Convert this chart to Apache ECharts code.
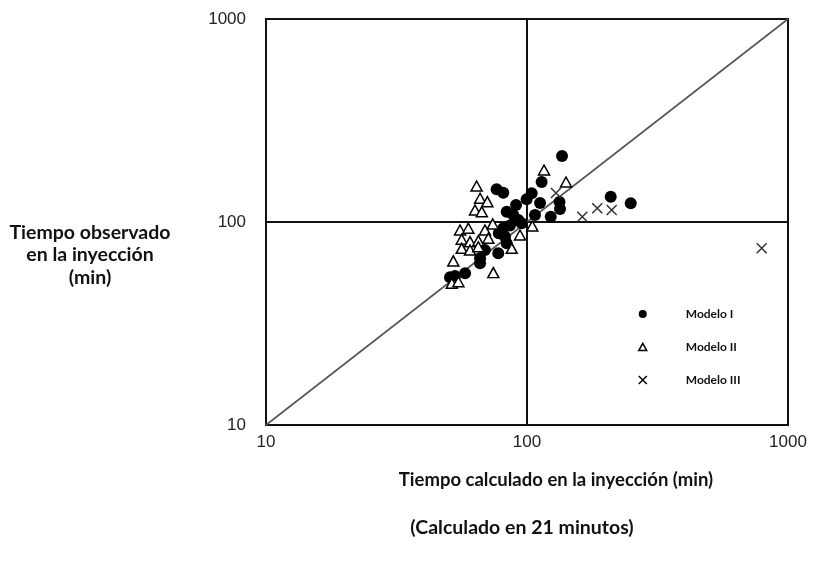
<!DOCTYPE html>
<html>
<head>
<meta charset="utf-8">
<script src="https://cdn.jsdelivr.net/npm/echarts@6/dist/echarts.min.js"></script>
<style>html,body{margin:0;padding:0;background:#fff;}#c{width:816px;height:569px;}</style>
</head>
<body>
<div id="c"></div>
<script>
// Modelo I (filled circles): [calculated, observed] in minutes
const modeloI = [
  [136.2,211.4],[113.8,157.4],[104.2,138.5],[99.7,129.4],[76.5,144.9],[81.1,139.4],
  [112.2,124.1],[133.2,125.5],[133.8,115.9],[123.3,106.2],[107.3,108.3],
  [209.3,133.2],[249.7,123.6],[83.6,112.4],[88.6,108.3],[92.6,102.3],[95.4,98.5],
  [90.8,121.3],[81.1,93.1],[82.4,84.6],[83.6,78.5],[69.0,72.8],[77.6,70.1],
  [66.1,66.3],[66.1,62.6],[57.9,55.9],[53.0,54.2],[50.7,53.4],[86.0,96.0],[78.0,88.0]
];
// Modelo II (open triangles)
const modeloII = [
  [64.1,150.4],[66.1,130.9],[70.5,125.9],[63.2,114.6],[67.1,112.4],[55.4,91.3],
  [59.6,93.1],[69.0,91.3],[73.9,97.8],[56.2,82.2],[60.5,80.0],[65.1,80.9],
  [56.2,74.2],[60.5,72.8],[65.1,75.5],[71.1,83.2],[52.2,64.3],[51.5,49.9],
  [54.6,50.8],[74.3,56.3],[87.4,74.2],[94.0,86.3],[104.8,95.6],[116.2,180.4],[141.1,157.4]
];
// Modelo III (crosses)
const modeloIII = [
  [129.1,139.0],[162.9,106.2],[185.9,116.8],[211.1,114.6],[792.9,74.2]
];
// 1:1 reference line
const identityLine = [[10,10],[1000,1000]];
const axisTicks = [10,100,1000];

const seriesNames = ['Modelo I','Modelo II','Modelo III'];
const xTitle = 'Tiempo calculado en la inyección (min)';
const yTitle = 'Tiempo observado\nen la inyección\n(min)';
const subTitle = '(Calculado en 21 minutos)';

const crossPath = 'path://M0,0L10,10M10,0L0,10';
const triPath = 'path://M5,0L10,9L0,9Z';

const chart = echarts.init(document.getElementById('c'), null, {renderer:'canvas'});
const labelFont = 'Liberation Sans, Arial, sans-serif';
const boldFont = 'Lato, "Open Sans", sans-serif';
chart.setOption({
  animation:false,
  backgroundColor:'#fff',
  title:[
    {
      text:subTitle,
      left:517, top:513, textAlign:'center',
      textStyle:{fontFamily:boldFont, fontWeight:'bold', fontSize:19.5, color:'#111'}
    },
    {
      text:yTitle,
      left:85, top:216, textAlign:'center',
      textStyle:{fontFamily:boldFont, fontWeight:'bold', fontSize:19.5, color:'#111', lineHeight:22.5, align:'center'}
    }
  ],
  grid:{left:266, right:28, top:19, bottom:144, show:true, borderColor:'#111', borderWidth:2, backgroundColor:'transparent'},
  legend:{
    orient:'vertical', left:633, top:303, itemGap:21, itemWidth:8, itemHeight:8,
    data:[
      {name:seriesNames[0], icon:'circle', itemStyle:{color:'#000', borderWidth:0, opacity:1}},
      {name:seriesNames[1], icon:triPath, itemStyle:{color:'#fff', borderColor:'#000', borderWidth:1.5, opacity:1}},
      {name:seriesNames[2], icon:crossPath, itemStyle:{color:'#000', borderColor:'#000', borderWidth:1.5, opacity:1}}
    ],
    textStyle:{fontFamily:boldFont, fontWeight:'bold', fontSize:12, color:'#111', padding:[0,0,0,34]}
  },
  xAxis:{
    type:'log', logBase:10, min:axisTicks[0], max:axisTicks[2],
    name:xTitle, nameLocation:'middle', nameGap:46,
    nameTextStyle:{fontFamily:boldFont, fontWeight:'bold', fontSize:18.5, color:'#111', padding:[0,0,0,58]},
    axisLine:{show:true, lineStyle:{color:'#111', width:2}},
    axisTick:{show:false},
    axisLabel:{fontFamily:labelFont, fontSize:17, color:'#222', margin:9, formatter:v => String(Math.round(v))},
    splitLine:{show:true, lineStyle:{color:'#111', width:2}}
  },
  yAxis:{
    type:'log', logBase:10, min:axisTicks[0], max:axisTicks[2],
    axisLine:{show:true, lineStyle:{color:'#111', width:2}},
    axisTick:{show:false},
    axisLabel:{fontFamily:labelFont, fontSize:17, color:'#222', margin:20, formatter:v => String(Math.round(v))},
    splitLine:{show:true, lineStyle:{color:'#111', width:2}}
  },
  series:[
    {type:'line', data:identityLine, symbol:'none', silent:true, legendHoverLink:false,
     lineStyle:{color:'#555', width:1.6}, z:1},
    {name:seriesNames[0], type:'scatter', data:modeloI, symbol:'circle', symbolSize:12,
     itemStyle:{color:'#000', opacity:1}, z:3},
    {name:seriesNames[1], type:'scatter', data:modeloII, symbol:triPath, symbolSize:[11,10],
     itemStyle:{color:'#fff', borderColor:'#000', borderWidth:1.5, opacity:1}, z:4},
    {name:seriesNames[2], type:'scatter', data:modeloIII, symbol:crossPath, symbolSize:10,
     itemStyle:{color:'#333', borderColor:'#333', borderWidth:1.5, opacity:1}, z:5}
  ]
});
</script>
</body>
</html>
